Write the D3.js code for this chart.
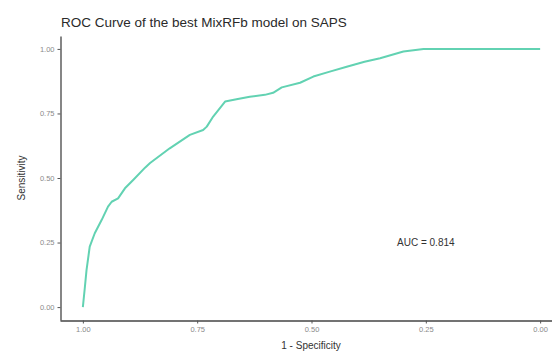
<!DOCTYPE html>
<html>
<head>
<meta charset="utf-8">
<script src="https://cdn.jsdelivr.net/npm/d3@7"></script>
<style>
html,body{margin:0;padding:0;background:#fff;}
svg{display:block;font-family:"Liberation Sans",Arial,sans-serif;}
</style>
</head>
<body>
<svg id="chart" width="552" height="352"></svg>
<script>
// ROC curve points (specificity, sensitivity)
const specificity = [1.000, 0.996, 0.992, 0.985, 0.974, 0.959, 0.945, 0.937, 0.923, 0.908, 0.890, 0.864, 0.853, 0.810, 0.766, 0.737, 0.729, 0.715, 0.689, 0.664, 0.635, 0.602, 0.584, 0.565, 0.525, 0.496, 0.460, 0.423, 0.384, 0.350, 0.299, 0.255, 0.200, 0.100, 0.000];
const sensitivity = [0.000, 0.070, 0.143, 0.234, 0.286, 0.337, 0.389, 0.408, 0.421, 0.460, 0.492, 0.540, 0.558, 0.615, 0.667, 0.686, 0.699, 0.738, 0.796, 0.805, 0.815, 0.822, 0.830, 0.851, 0.869, 0.893, 0.912, 0.931, 0.950, 0.964, 0.990, 1.000, 1.000, 1.000, 1.000];
const xTicks = [1.00, 0.75, 0.50, 0.25, 0.00];
const yTicks = [0.00, 0.25, 0.50, 0.75, 1.00];
const titleText = "ROC Curve of the best MixRFb model on SAPS";
const xTitle = "1 - Specificity";
const yTitle = "Sensitivity";
const aucLabel = "AUC = 0.814";
const aucPos = [0.25, 0.25];

const svg = d3.select("#chart");
const x = d3.scaleLinear().domain([1.05, -0.05]).range([60, 563]);
const y = d3.scaleLinear().domain([-0.05, 1.05]).range([320, 36]);

// title
svg.append("text").attr("x", 61).attr("y", 27)
  .attr("font-size", 13.5).attr("fill", "#2a2a2a").text(titleText);

// axes
const xAxis = d3.axisBottom(x).tickValues(xTicks).tickFormat(d3.format(".2f")).tickSize(3).tickSizeOuter(0).tickPadding(3);
const yAxis = d3.axisLeft(y).tickValues(yTicks).tickFormat(d3.format(".2f")).tickSize(3).tickSizeOuter(0).tickPadding(3);

const gx = svg.append("g").attr("transform", "translate(0,320.5)").call(xAxis);
const gy = svg.append("g").attr("transform", "translate(60.5,0)").call(yAxis);
[gx, gy].forEach(g => {
  g.select(".domain").attr("stroke", "#444").attr("stroke-width", 1.3);
  g.selectAll(".tick line").attr("stroke", "#555");
  g.selectAll(".tick text").attr("fill", "#8a8a8a").attr("font-size", 7.5)
    .attr("font-family", "Liberation Sans, Arial, sans-serif");
});

// axis titles
svg.append("text").attr("x", 311).attr("y", 349).attr("text-anchor", "middle")
  .attr("font-size", 10).attr("fill", "#333").text(xTitle);
svg.append("text").attr("transform", "translate(25,178) rotate(-90)").attr("text-anchor", "middle")
  .attr("font-size", 10).attr("fill", "#333").text(yTitle);

// curve
const pts = specificity.map((s, i) => [s, sensitivity[i]]);
const line = d3.line().x(d => x(d[0])).y(d => y(d[1]));
svg.append("path").datum(pts).attr("d", line)
  .attr("fill", "none").attr("stroke", "#62d2b2").attr("stroke-width", 2)
  .attr("stroke-linejoin", "round");

// AUC label
svg.append("text").attr("x", x(aucPos[0])).attr("y", y(aucPos[1]) + 3.5)
  .attr("text-anchor", "middle").attr("font-size", 10).attr("fill", "#333").text(aucLabel);
</script>
</body>
</html>
